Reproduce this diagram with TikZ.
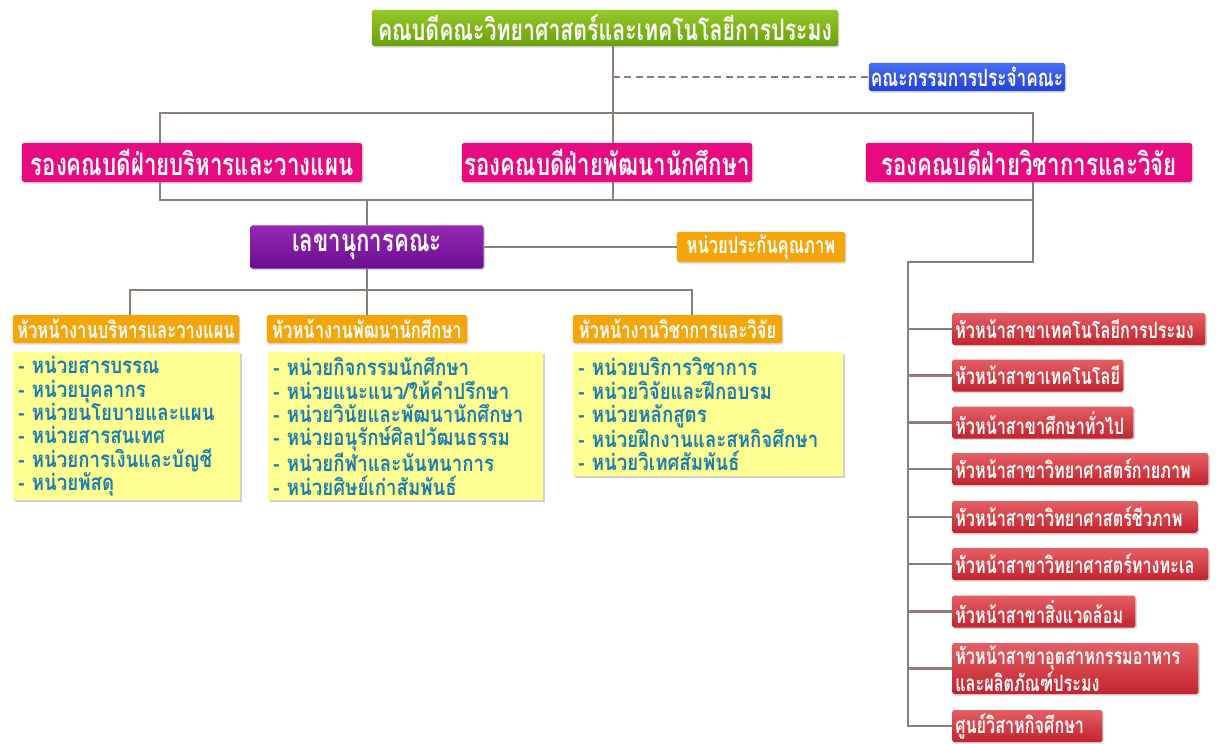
\documentclass[tikz,border=0pt]{standalone}
\usepackage{fontspec}
\newfontfamily\thaifont[Script=Thai,FakeStretch=0.72]{Loma}
\newfontfamily\listfont[Script=Thai,FakeStretch=0.84]{Loma}
\newcommand{\tfont}[2]{\thaifont\bfseries\fontsize{#1}{#2}\selectfont}
\newcommand{\lfont}[2]{\listfont\bfseries\fontsize{#1}{#2}\selectfont}
\usetikzlibrary{shadows}
\definecolor{lineC}{RGB}{140,125,118}
\definecolor{greenT}{RGB}{150,200,40}
\definecolor{greenB}{RGB}{105,160,10}
\definecolor{blueT}{RGB}{70,110,245}
\definecolor{blueB}{RGB}{35,65,215}
\definecolor{pinkC}{RGB}{232,10,128}
\definecolor{purpT}{RGB}{150,40,180}
\definecolor{purpB}{RGB}{105,15,145}
\definecolor{orangeC}{RGB}{244,165,10}
\definecolor{yellowC}{RGB}{255,255,145}
\definecolor{unitC}{RGB}{25,125,175}
\definecolor{redT}{RGB}{228,95,100}
\definecolor{redB}{RGB}{195,35,45}
\begin{document}
\begin{tikzpicture}[x=0.025cm, y=-0.025cm,
  conn/.style={draw=lineC, line width=1.6pt},
  box/.style={inner sep=0pt, rounded corners=1.2pt, text=white,
    drop shadow={shadow xshift=1pt, shadow yshift=-1.2pt, opacity=0.3}},
  deanbox/.style={box, top color=greenT, bottom color=greenB, font=\tfont{21}{23}},
  boardbox/.style={box, top color=blueT, bottom color=blueB, font=\tfont{17}{19}},
  vpbox/.style={box, fill=pinkC, minimum height=0.975cm, font=\tfont{22}{24}},
  secbox/.style={box, top color=purpT, bottom color=purpB, font=\tfont{22}{24}},
  headbox/.style={box, fill=orangeC, font=\tfont{16.4}{18}},
  unitbox/.style={anchor=north west, inner xsep=0.125cm, inner ysep=0pt, fill=yellowC,
    align=left, text=unitC, font=\lfont{15.8}{16.6},
    drop shadow={shadow xshift=1.5pt, shadow yshift=-1.5pt, opacity=0.35}},
  subbox/.style={box, top color=redT, bottom color=redB, anchor=west,
    inner xsep=0.075cm, align=left, minimum height=0.8cm, font=\tfont{16}{17}}]
\useasboundingbox (0,0) rectangle (1221,743);
\fill[white] (0,0) rectangle (1221,743);

% top level
\node[deanbox, minimum width=11.65cm, minimum height=0.9cm] (DEAN) at (605,28) {คณบดีคณะวิทยาศาสตร์และเทคโนโลยีการประมง};
\node[boardbox, minimum width=4.9cm, minimum height=0.7cm] (BOARD) at (967,77) {คณะกรรมการประจำคณะ};

% vice deans
\node[vpbox, minimum width=8.5cm] (VP1) at (192,162.5) {รองคณบดีฝ่ายบริหารและวางแผน};
\node[vpbox, minimum width=7.25cm] (VP2) at (607,162.5) {รองคณบดีฝ่ายพัฒนานักศึกษา};
\node[vpbox, minimum width=8.15cm] (VP3) at (1029,162.5) {รองคณบดีฝ่ายวิชาการและวิจัย};

% secretary
\node[secbox, minimum width=5.825cm, minimum height=1.075cm] (SEC) at (367,247) {เลขานุการคณะ};
\node[headbox, minimum width=4.2cm, minimum height=0.75cm] (QA) at (761,247) {หน่วยประกันคุณภาพ};

% heads of work
\node[headbox, minimum width=5.65cm, minimum height=0.7cm] (H1) at (126,329) {หัวหน้างานบริหารและวางแผน};
\node[headbox, minimum width=5.0cm, minimum height=0.7cm] (H2) at (367,329) {หัวหน้างานพัฒนานักศึกษา};
\node[headbox, minimum width=5.225cm, minimum height=0.7cm] (H3) at (677.5,329) {หัวหน้างานวิชาการและวิจัย};

\node[unitbox, text width=5.425cm, minimum height=3.7cm] (U1) at (13,352) {- หน่วยสารบรรณ\\- หน่วยบุคลากร\\- หน่วยนโยบายและแผน\\- หน่วยสารสนเทศ\\- หน่วยการเงินและบัญชี\\- หน่วยพัสดุ};
\node[unitbox, text width=6.625cm, minimum height=3.7cm] (U2) at (268,352) {- หน่วยกิจกรรมนักศึกษา\\- หน่วยแนะแนว/ให้คำปรึกษา\\- หน่วยวินัยและพัฒนานักศึกษา\\- หน่วยอนุรักษ์ศิลปวัฒนธรรม\\- หน่วยกีฬาและนันทนาการ\\- หน่วยศิษย์เก่าสัมพันธ์};
\node[unitbox, text width=6.5cm, minimum height=3.1cm] (U3) at (573,352) {- หน่วยบริการวิชาการ\\- หน่วยวิจัยและฝึกอบรม\\- หน่วยหลักสูตร\\- หน่วยฝึกงานและสหกิจศึกษา\\- หน่วยวิเทศสัมพันธ์};

% heads of programmes
\node[subbox, text width=6.175cm] (S1) at (952,329) {หัวหน้าสาขาเทคโนโลยีการประมง};
\node[subbox, text width=4.125cm] (S2) at (952,375.5) {หัวหน้าสาขาเทคโนโลยี};
\node[subbox, text width=4.375cm] (S3) at (952,422.5) {หัวหน้าสาขาศึกษาทั่วไป};
\node[subbox, text width=6.25cm] (S4) at (952,469) {หัวหน้าสาขาวิทยาศาสตร์กายภาพ};
\node[subbox, text width=5.975cm] (S5) at (952,517) {หัวหน้าสาขาวิทยาศาสตร์ชีวภาพ};
\node[subbox, text width=6.25cm] (S6) at (952,564) {หัวหน้าสาขาวิทยาศาสตร์ทางทะเล};
\node[subbox, text width=4.425cm] (S7) at (952,611.5) {หัวหน้าสาขาสิ่งแวดล้อม};
\node[subbox, text width=6.0cm, minimum height=1.275cm] (S8) at (952,668.5) {หัวหน้าสาขาอุตสาหกรรมอาหาร\\และผลิตภัณฑ์ประมง};
\node[subbox, text width=3.6cm] (S9) at (952,726) {ศูนย์วิสาหกิจศึกษา};

% connectors
\coordinate (T) at (613,113);
\coordinate (TL) at (160,113);
\coordinate (TR) at (1033,113);
\coordinate (ML) at (160,200);
\coordinate (MR) at (1033,200);
\coordinate (MS) at (367,200);
\coordinate (R1) at (1033,262);
\coordinate (R2) at (908,262);
\coordinate (BL) at (130,290);
\coordinate (BR) at (692,290);
\draw[conn] (DEAN.south -| T) -- (VP2.north -| T);
\draw[conn] (VP1.north -| TL) -- (TL) -- (TR) -- (VP3.north -| TR);
\draw[conn, dash pattern=on 5pt off 3pt] (T |- BOARD.west) -- (BOARD.west);
\draw[conn] (VP1.south -| ML) -- (ML) -- (MR);
\draw[conn] (VP2.south -| T) -- (T |- ML);
\draw[conn] (MS) -- (SEC.north);
\draw[conn] (SEC.east) -- (QA.west);
\draw[conn] (VP3.south -| MR) -- (R1) -- (R2) -- (R2 |- S9.west) -- (S9.west);
\foreach \i in {1,...,8}
  \draw[conn] (R2 |- S\i.west) -- (S\i.west);
\draw[conn] (SEC.south) -- (SEC.south |- BL);
\draw[conn] (H1.north -| BL) -- (BL) -- (BR) -- (H3.north -| BR);
\draw[conn] (SEC.south |- BL) -- (H2.north);
\end{tikzpicture}
\end{document}
